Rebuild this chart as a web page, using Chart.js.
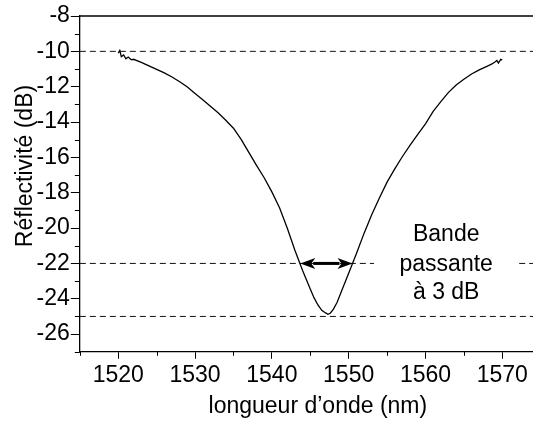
<!DOCTYPE html>
<html lang="fr">
<head>
  <meta charset="UTF-8">
  <title>Réflectivité</title>
  <script src="https://cdn.jsdelivr.net/npm/chart.js"></script>
  <style>
    body { margin: 0; background: #fff; overflow: hidden; }
    #wrap { width: 533px; height: 423px; }
  </style>
</head>
<body>
  <div id="wrap">
    <canvas id="spectre"></canvas>
  </div>
  <script>
    // measured spectrum (nm, dB)
    const wavelength = [
      1520.0, 1520.2, 1520.4, 1520.7, 1521.0, 1521.3, 1521.7, 1522.0, 1523.0, 1524.0,
      1525.0, 1526.0, 1527.0, 1528.0, 1529.0, 1530.0, 1531.0, 1532.0, 1533.0, 1534.0,
      1535.0, 1536.0, 1537.0, 1538.0, 1539.0, 1540.0, 1541.0, 1542.0, 1543.0, 1544.0,
      1545.0, 1545.5, 1546.0, 1546.5, 1547.0, 1547.3, 1547.6, 1548.0, 1548.5, 1549.0,
      1550.0, 1551.0, 1552.0, 1553.0, 1554.0, 1555.0, 1556.0, 1557.0, 1558.0, 1559.0,
      1560.0, 1561.0, 1562.0, 1563.0, 1564.0, 1565.0, 1566.0, 1567.0, 1568.0, 1568.6,
      1569.0, 1569.3, 1569.5, 1569.8, 1570.0
    ];
    const reflectivity = [
      -10.10, -9.95, -10.30, -10.20, -10.42, -10.32, -10.48, -10.45, -10.62, -10.82,
      -11.02, -11.22, -11.45, -11.72, -12.02, -12.38, -12.74, -13.10, -13.48, -13.90,
      -14.35, -14.98, -15.72, -16.45, -17.15, -17.95, -18.85, -20.00, -21.25, -22.40,
      -23.45, -23.95, -24.35, -24.65, -24.80, -24.88, -24.82, -24.60, -24.20, -23.65,
      -22.55, -21.45, -20.30, -19.25, -18.30, -17.40, -16.65, -15.95, -15.30, -14.70,
      -14.10, -13.40, -12.85, -12.32, -11.90, -11.58, -11.28, -11.05, -10.85, -10.72,
      -10.62, -10.52, -10.66, -10.45, -10.50
    ];

    const xMin = 1515, xMax = 1574;
    const yMin = -27, yMax = -8;
    const xTicks = [1520, 1530, 1540, 1550, 1560, 1570];
    const xMinorTicks = [1515, 1525, 1535, 1545, 1555, 1565];
    const yTicks = [-26, -24, -22, -20, -18, -16, -14, -12, -10, -8];
    const yMinorTicks = [-27, -25, -23, -21, -19, -17, -15, -13, -11, -9];
    const xTitle = 'longueur d’onde (nm)';
    const yTitle = 'Réflectivité (dB)';

    // reference levels and 3 dB band
    const refLevels = [-10, -25];
    const bandLevel = -22;
    const bandStart = 1543.7, bandEnd = 1550.5;
    const labelGap = [1553.3, 1572.2];
    const labelX = 1562.7;
    const labelLines = ['Bande', 'passante', 'à 3 dB'];
    const labelY = [-20.4, -22.05, -23.65];

    const curve = wavelength.map((x, i) => ({ x: x, y: reflectivity[i] }));

    const dashed = (pts) => ({
      data: pts,
      borderColor: '#111',
      borderWidth: 1,
      borderDash: [6, 4],
      pointRadius: 0
    });

    const datasets = [{
      data: curve,
      borderColor: '#000',
      borderWidth: 1.3,
      pointRadius: 0,
      tension: 0
    }];
    refLevels.forEach(v => datasets.push(dashed([{ x: xMin, y: v }, { x: xMax, y: v }])));
    datasets.push(dashed([{ x: xMin, y: bandLevel }, { x: labelGap[0], y: bandLevel }]));
    datasets.push(dashed([{ x: labelGap[1], y: bandLevel }, { x: xMax, y: bandLevel }]));

    const FONT = '23px "Liberation Sans", Arial, sans-serif';

    // minor ticks, top frame line, arrow, label and axis titles
    const extras = {
      id: 'extras',
      afterDraw(chart) {
        const ctx = chart.ctx;
        const xs = chart.scales.x, ys = chart.scales.y;
        const area = chart.chartArea;
        ctx.save();
        ctx.strokeStyle = '#000';
        ctx.lineWidth = 1;
        ctx.beginPath();
        xMinorTicks.forEach(v => {
          const px = Math.round(xs.getPixelForValue(v)) + 0.5;
          ctx.moveTo(px, area.bottom);
          ctx.lineTo(px, area.bottom + 4);
        });
        yMinorTicks.forEach(v => {
          const py = Math.round(ys.getPixelForValue(v)) + 0.5;
          ctx.moveTo(area.left - 5, py);
          ctx.lineTo(area.left, py);
        });
        ctx.stroke();

        ctx.lineWidth = 1.3;
        ctx.beginPath();
        ctx.moveTo(area.left, area.top);
        ctx.lineTo(area.right, area.top);
        ctx.stroke();

        // double arrow
        const x0 = xs.getPixelForValue(bandStart);
        const x1 = xs.getPixelForValue(bandEnd);
        const y = ys.getPixelForValue(bandLevel);
        const head = 15, half = 5.5;
        ctx.lineWidth = 3;
        ctx.beginPath();
        ctx.moveTo(x0 + head - 2, y);
        ctx.lineTo(x1 - head + 2, y);
        ctx.stroke();
        ctx.fillStyle = '#000';
        ctx.beginPath();
        ctx.moveTo(x0, y);
        ctx.lineTo(x0 + head, y - half);
        ctx.lineTo(x0 + head - 4, y);
        ctx.lineTo(x0 + head, y + half);
        ctx.closePath();
        ctx.moveTo(x1, y);
        ctx.lineTo(x1 - head, y - half);
        ctx.lineTo(x1 - head + 4, y);
        ctx.lineTo(x1 - head, y + half);
        ctx.closePath();
        ctx.fill();

        ctx.font = FONT;
        ctx.textAlign = 'center';
        ctx.textBaseline = 'middle';
        labelLines.forEach((t, i) => {
          ctx.fillText(t, xs.getPixelForValue(labelX), ys.getPixelForValue(labelY[i]));
        });

        // axis titles (space is reserved by the hidden scale titles)
        ctx.fillText(xTitle, area.left + 238, xs.bottom - 15);
        ctx.translate(ys.left + 18, area.top + 150);
        ctx.rotate(-Math.PI / 2);
        ctx.fillText(yTitle, 0, 0);
        ctx.restore();
      }
    };

    Chart.defaults.font.family = '"Liberation Sans", Arial, sans-serif';
    Chart.defaults.font.size = 23;
    Chart.defaults.color = '#000';

    new Chart(document.getElementById('spectre'), {
      type: 'line',
      data: { datasets: datasets },
      plugins: [extras],
      options: {
        responsive: true,
        maintainAspectRatio: false,
        animation: false,
        layout: { padding: { top: 16, right: 0, left: 8, bottom: 1 } },
        plugins: { legend: { display: false }, tooltip: { enabled: false } },
        scales: {
          x: {
            type: 'linear',
            min: xMin,
            max: xMax,
            afterBuildTicks: s => { s.ticks = xTicks.map(v => ({ value: v })); },
            grid: { drawOnChartArea: false, tickLength: 7, tickColor: '#000' },
            border: { color: '#000', width: 1.3 },
            ticks: { padding: 3, maxRotation: 0, callback: v => String(v) },
            title: { display: true, text: xTitle, color: 'rgba(0,0,0,0)', padding: { top: 0, bottom: 2 } }
          },
          y: {
            min: yMin,
            max: yMax,
            afterBuildTicks: s => { s.ticks = yTicks.map(v => ({ value: v })); },
            grid: { drawOnChartArea: false, tickLength: 9, tickColor: '#000' },
            border: { color: '#000', width: 1.3 },
            ticks: { padding: 1, callback: v => String(v) },
            title: { display: true, text: yTitle, color: 'rgba(0,0,0,0)', padding: 0 }
          }
        }
      }
    });
  </script>
</body>
</html>
